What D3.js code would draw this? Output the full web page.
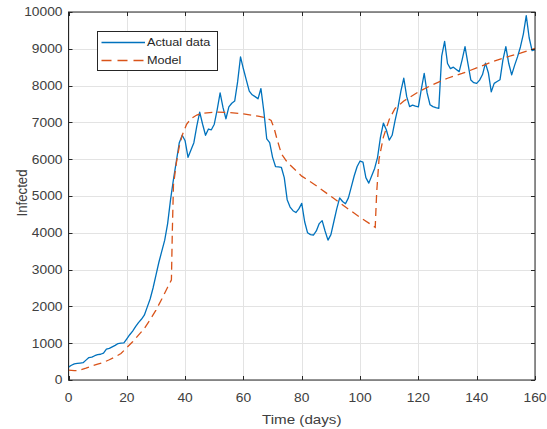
<!DOCTYPE html>
<html>
<head>
<meta charset="utf-8">
<script src="https://cdn.jsdelivr.net/npm/d3@7/dist/d3.min.js"></script>
<style>
  html, body { margin: 0; padding: 0; background: #fff; }
  svg { display: block; font-family: "Liberation Sans", Arial, Helvetica, sans-serif; }
</style>
</head>
<body>
<svg id="chart" width="547" height="429"></svg>
<script>
// Daily infected counts, day 0 .. day 160
const actualCases = [
  350, 400, 440, 450, 460, 470, 540, 610, 620, 660,
  690, 700, 730, 840, 860, 900, 940, 990, 1000, 1010,
  1120, 1230, 1330, 1450, 1560, 1650, 1760, 1980, 2200, 2500,
  2850, 3200, 3500, 3800, 4250, 4900, 5450, 5950, 6450, 6650,
  6500, 6050, 6250, 6450, 6900, 7280, 6950, 6650, 6820, 6800,
  6950, 7350, 7800, 7400, 7100, 7420, 7520, 7580, 8100, 8780,
  8450, 8150, 7850, 7750, 7700, 7640, 7920, 7300, 6550, 6450,
  6050, 5800, 5790, 5780, 5500, 4900, 4700, 4600, 4550, 4650,
  4800, 4300, 4000, 3950, 3940, 4050, 4250, 4330, 4050, 3800,
  3950, 4300, 4650, 4950, 4850, 4790, 4950, 5250, 5550, 5800,
  5950, 5920, 5500, 5350, 5550, 5750, 6050, 6600, 6980, 6800,
  6520, 6650, 7050, 7400, 7850, 8200, 7700, 7430, 7470, 7440,
  7420, 7900, 8330, 7800, 7480, 7430, 7400, 7380, 8800, 9200,
  8600, 8460, 8500, 8440, 8380, 8700, 9060, 8600, 8150, 8080,
  8060, 8150, 8300, 8610, 8350, 7830, 8060, 8110, 8160, 8700,
  9060, 8600, 8290, 8550, 8780, 9050, 9400, 9900, 9300, 8950,
  8980
];

// Model output (piecewise, with jumps at the intervention days)
const modelDays = [
  0, 1, 2, 3, 4, 6, 8, 10, 12, 14, 16, 18, 20, 22, 24, 26, 28, 30, 32, 34, 35.3,
  35.6, 36, 37, 38, 39, 40.5, 42, 44, 46, 50, 55, 60, 65, 68, 69.5, 70.5, 71.5, 73, 75,
  80, 85, 90, 95, 100, 105.2,
  105.7, 106.5, 108, 110, 112, 115, 120, 125, 130, 135, 140, 145, 150, 155, 160
];
const modelValues = [
  270, 262, 255, 255, 270, 320, 380, 430, 480, 550, 630, 720, 880, 1040, 1220, 1400, 1640, 1900, 2200, 2520, 2720,
  4000, 5300, 5900, 6350, 6650, 6950, 7100, 7200, 7250, 7280, 7270, 7230, 7170, 7120, 7050, 6850, 6550, 6150, 5920,
  5540, 5280, 4990, 4700, 4420, 4150,
  5100, 6000, 6600, 7080, 7380, 7580, 7830, 8030, 8200, 8330, 8480, 8640, 8770, 8880, 9010
];

const xTicks = [0, 20, 40, 60, 80, 100, 120, 140, 160];
const yTicks = [0, 1000, 2000, 3000, 4000, 5000, 6000, 7000, 8000, 9000, 10000];
const seriesNames = ["Actual data", "Model"];
const xLabel = "Time (days)";
const yLabel = "Infected";

const blue = "#0072BD";
const orange = "#D95319";
const axisColor = "#262626";
const textColor = "#404040";
const stretch = 1.15; // horizontal glyph stretch

const svg = d3.select("#chart");
const margin = { left: 68.5, right: 535, top: 12, bottom: 380 };

const x = d3.scaleLinear().domain([0, 160]).range([margin.left, margin.right]);
const y = d3.scaleLinear().domain([0, 10000]).range([margin.bottom, margin.top]);

// grid
const grid = svg.append("g").attr("class", "grid");
grid.selectAll("line.gx").data(xTicks).join("line")
  .attr("x1", d => Math.round(x(d)) + 0.5).attr("x2", d => Math.round(x(d)) + 0.5)
  .attr("y1", margin.top).attr("y2", margin.bottom)
  .attr("stroke", "#e3e3e3").attr("stroke-width", 1);
grid.selectAll("line.gy").data(yTicks).join("line")
  .attr("y1", d => Math.round(y(d)) + 0.5).attr("y2", d => Math.round(y(d)) + 0.5)
  .attr("x1", margin.left).attr("x2", margin.right)
  .attr("stroke", "#e3e3e3").attr("stroke-width", 1);

// data lines
const plot = svg.append("g");
const actualLine = d3.line()
  .x((d, i) => x(i))
  .y(d => y(d));
plot.append("path")
  .datum(actualCases)
  .attr("d", actualLine)
  .attr("fill", "none")
  .attr("stroke", blue)
  .attr("stroke-width", 1.3)
  .attr("stroke-linejoin", "round");

const modelPoints = modelDays.map((d, i) => [d, modelValues[i]]);
const modelLine = d3.line().x(d => x(d[0])).y(d => y(d[1]));
plot.append("path")
  .datum(modelPoints)
  .attr("d", modelLine)
  .attr("fill", "none")
  .attr("stroke", orange)
  .attr("stroke-width", 1.3)
  .attr("stroke-dasharray", "8,5");

// axes box with inward ticks on all sides
const tickLen = 4;
const axes = svg.append("g").attr("stroke", axisColor).attr("stroke-width", 1).attr("fill", "none");
axes.append("rect")
  .attr("x", margin.left).attr("y", margin.top)
  .attr("width", margin.right - margin.left).attr("height", margin.bottom - margin.top);

xTicks.forEach(t => {
  const px = Math.round(x(t)) + 0.5;
  axes.append("line").attr("x1", px).attr("x2", px).attr("y1", margin.bottom).attr("y2", margin.bottom - tickLen);
  axes.append("line").attr("x1", px).attr("x2", px).attr("y1", margin.top).attr("y2", margin.top + tickLen);
});
yTicks.forEach(t => {
  const py = Math.round(y(t)) + 0.5;
  axes.append("line").attr("y1", py).attr("y2", py).attr("x1", margin.left).attr("x2", margin.left + tickLen);
  axes.append("line").attr("y1", py).attr("y2", py).attr("x1", margin.right).attr("x2", margin.right - tickLen);
});

// tick labels
const xAxisG = svg.append("g").attr("fill", textColor).attr("font-size", 12);
xTicks.forEach(t => {
  xAxisG.append("text")
    .attr("transform", `translate(${x(t)},${401.5}) scale(${stretch},1)`)
    .attr("text-anchor", "middle")
    .text(t);
});
const yAxisG = svg.append("g").attr("fill", textColor).attr("font-size", 12);
yTicks.forEach(t => {
  yAxisG.append("text")
    .attr("transform", `translate(${margin.left - 6},${y(t)}) scale(${stretch},1)`)
    .attr("text-anchor", "end")
    .attr("dy", "0.36em")
    .text(t);
});

// axis labels
svg.append("text")
  .attr("transform", `translate(${(margin.left + margin.right) / 2},${424}) scale(${stretch},1)`)
  .attr("text-anchor", "middle")
  .attr("font-size", 13.2)
  .attr("fill", textColor)
  .text(xLabel);
svg.append("text")
  .attr("transform", `translate(${26.5},${193}) scale(${stretch},1) rotate(-90)`)
  .attr("text-anchor", "middle")
  .attr("font-size", 13.2)
  .attr("fill", textColor)
  .text(yLabel);

// legend
const legend = svg.append("g");
legend.append("rect")
  .attr("x", 97.5).attr("y", 31.5).attr("width", 120).attr("height", 39)
  .attr("fill", "#fff").attr("stroke", axisColor).attr("stroke-width", 1);
const legendRows = [
  { name: seriesNames[0], color: blue, dash: null, y: 42.5 },
  { name: seriesNames[1], color: orange, dash: "10,6", y: 60.5 }
];
legendRows.forEach(r => {
  legend.append("line")
    .attr("x1", 101.5).attr("x2", 145).attr("y1", r.y).attr("y2", r.y)
    .attr("stroke", r.color).attr("stroke-width", 1.3)
    .attr("stroke-dasharray", r.dash);
  legend.append("text")
    .attr("transform", `translate(147,${r.y}) scale(${stretch},1)`)
    .attr("dy", "0.36em")
    .attr("font-size", 11)
    .attr("fill", "#262626")
    .text(r.name);
});
</script>
</body>
</html>
